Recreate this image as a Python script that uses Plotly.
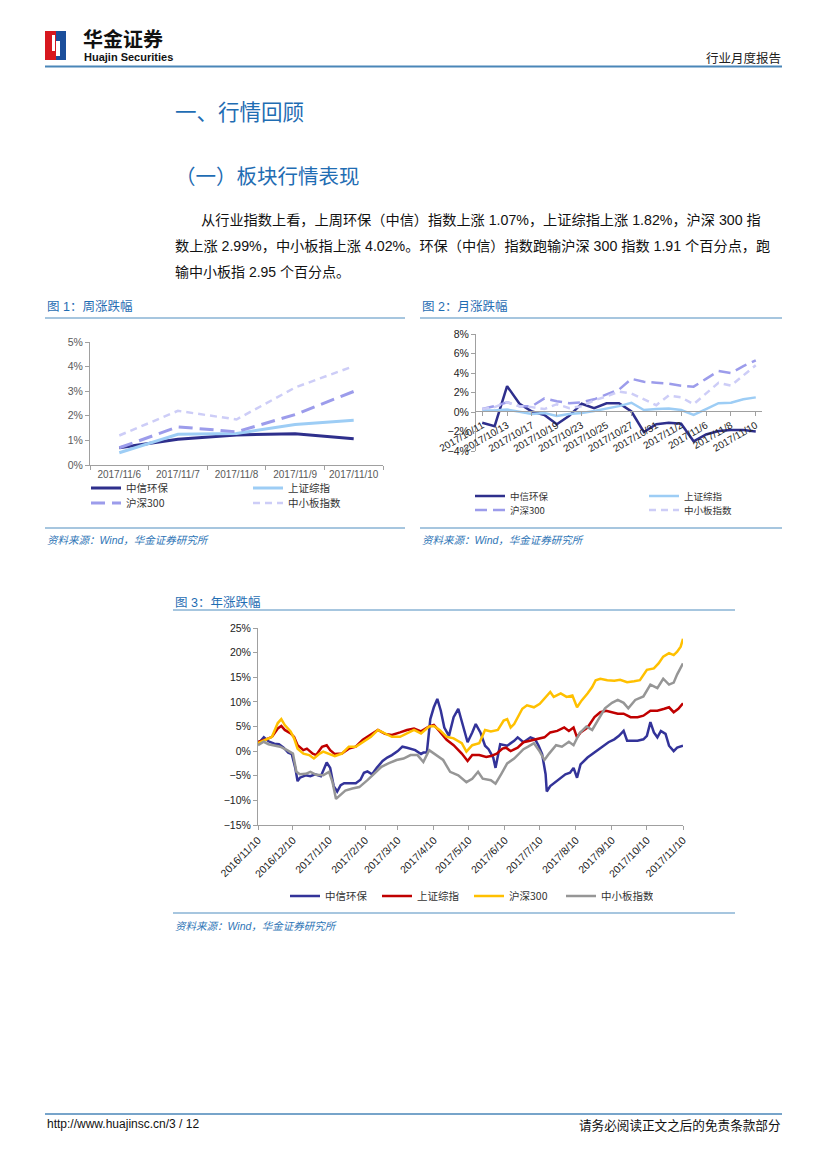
import plotly.graph_objects as go

W, H = 827, 1169
OFF = 8  # the page body adds an 8px margin around the figure
def fx(px): return (px - OFF) / W
def fy(py): return 1 - (py - OFF) / H

# ---------------- data ----------------
series_names = ["中信环保", "上证综指", "沪深300", "中小板指数"]

# Fig 1: weekly change (%)
c1_dates = ["2017/11/6", "2017/11/7", "2017/11/8", "2017/11/9", "2017/11/10"]
c1_zxhb = [0.70, 1.05, 1.22, 1.27, 1.07]
c1_szzz = [0.50, 1.25, 1.28, 1.65, 1.82]
c1_hs300 = [0.70, 1.55, 1.35, 2.05, 2.99]
c1_zxb = [1.20, 2.20, 1.85, 3.15, 4.02]

# Fig 2: monthly change (%)
c2_dates = ["2017/10/11", "2017/10/12", "2017/10/13", "2017/10/16", "2017/10/17", "2017/10/18",
            "2017/10/19", "2017/10/20", "2017/10/23", "2017/10/24", "2017/10/25", "2017/10/26",
            "2017/10/27", "2017/10/30", "2017/10/31", "2017/11/1", "2017/11/2", "2017/11/3",
            "2017/11/6", "2017/11/7", "2017/11/8", "2017/11/9", "2017/11/10"]
c2_zxhb = [-1.1, -1.45, 2.65, 0.85, 0.05, -0.3, -1.25, -0.4, 0.85, 0.4, 0.9, 0.9,
           0.05, -2.05, -1.25, -1.1, -1.2, -3.0, -2.3, -1.95, -1.85, -1.85, -2.0]
c2_szzz = [0.15, 0.15, 0.25, 0.0, -0.2, -0.1, -0.4, -0.2, -0.1, 0.1, 0.35, 0.6,
           0.95, 0.2, 0.3, 0.35, 0.2, -0.3, 0.3, 0.9, 0.95, 1.3, 1.5]
c2_hs300 = [0.3, 0.6, 1.0, 0.6, 0.6, 1.4, 1.1, 0.9, 1.0, 1.3, 1.8, 2.3,
            3.4, 3.1, 3.0, 2.9, 2.7, 2.6, 3.4, 4.2, 4.0, 4.7, 5.3]
c2_zxb = [0.3, 0.5, 1.0, 0.6, 0.5, 0.3, 0.8, 0.4, 0.6, 1.2, 1.6, 2.1,
          1.9, 1.3, 0.7, 1.7, 1.5, 0.8, 1.9, 3.0, 2.7, 3.8, 4.8]
c2_ticklabels = c2_dates[::2]

# Fig 3: yearly change (%)
c3_zxhb_dates = ["2016-11-10", "2016-11-15", "2016-11-19", "2016-11-24", "2016-11-28", "2016-12-02",
                 "2016-12-06", "2016-12-09", "2016-12-12", "2016-12-14", "2016-12-16", "2016-12-21",
                 "2016-12-25", "2016-12-29", "2017-01-03", "2017-01-06", "2017-01-08", "2017-01-11",
                 "2017-01-14", "2017-01-17", "2017-01-20", "2017-01-23", "2017-01-27", "2017-02-02",
                 "2017-02-06", "2017-02-09", "2017-02-12", "2017-02-16", "2017-02-20", "2017-02-25",
                 "2017-03-01", "2017-03-05", "2017-03-10", "2017-03-14", "2017-03-18", "2017-03-21",
                 "2017-03-25", "2017-03-30", "2017-04-01", "2017-04-04", "2017-04-07", "2017-04-10",
                 "2017-04-13", "2017-04-16", "2017-04-19", "2017-04-23", "2017-04-27", "2017-05-01",
                 "2017-05-04", "2017-05-09", "2017-05-13", "2017-05-16", "2017-05-20", "2017-05-24",
                 "2017-05-27", "2017-05-31", "2017-06-02", "2017-06-06", "2017-06-12", "2017-06-18",
                 "2017-06-21", "2017-06-26", "2017-07-02", "2017-07-06", "2017-07-09", "2017-07-12",
                 "2017-07-15", "2017-07-16", "2017-07-19", "2017-07-24", "2017-07-28", "2017-08-01",
                 "2017-08-05", "2017-08-08", "2017-08-11", "2017-08-14", "2017-08-20", "2017-08-26",
                 "2017-08-30", "2017-09-03", "2017-09-07", "2017-09-12", "2017-09-16", "2017-09-20",
                 "2017-09-23", "2017-09-27", "2017-10-02", "2017-10-07", "2017-10-10", "2017-10-13",
                 "2017-10-16", "2017-10-19", "2017-10-22", "2017-10-26", "2017-10-29", "2017-11-02",
                 "2017-11-05", "2017-11-10"]
c3_zxhb = [1.5, 2.8, 2.0, 1.5, 1.4, 0.7, -0.3, -0.6, -3.4, -6.1, -5.4, -4.9,
           -5.1, -4.7, -5.1, -3.4, -2.3, -3.4, -7.1, -8.2, -6.9, -6.5, -6.5, -6.5,
           -5.8, -4.4, -4.1, -4.7, -3.4, -2.0, -1.3, -0.8, 0.0, 0.9, 0.7, 0.5,
           0.2, -0.6, -0.3, -0.3, 6.5, 8.9, 10.6, 8.2, 4.8, 3.1, 6.9, 8.6,
           6.2, 1.8, 3.8, 5.5, 3.8, 1.1, 0.4, -1.3, -3.4, 1.4, 1.1, 2.1,
           2.8, 1.8, 2.8, 2.4, 1.1, -0.6, -4.7, -8.2, -7.1, -6.1, -5.4, -4.7,
           -4.4, -3.4, -5.4, -2.7, -1.3, -0.3, 0.4, 1.1, 1.8, 2.4, 3.1, 4.1,
           2.1, 2.1, 2.1, 2.4, 3.1, 5.9, 3.8, 2.8, 4.1, 3.5, 1.1, 0.0,
           0.7, 1.1]

c3_szzz_dates = ["2016-11-10", "2016-11-16", "2016-11-22", "2016-11-27", "2016-11-30", "2016-12-03",
                 "2016-12-08", "2016-12-11", "2016-12-14", "2016-12-19", "2016-12-22", "2016-12-27",
                 "2016-12-30", "2017-01-04", "2017-01-08", "2017-01-11", "2017-01-15", "2017-01-21",
                 "2017-01-27", "2017-02-02", "2017-02-08", "2017-02-15", "2017-02-21", "2017-02-27",
                 "2017-03-05", "2017-03-12", "2017-03-18", "2017-03-24", "2017-03-30", "2017-04-06",
                 "2017-04-10", "2017-04-15", "2017-04-21", "2017-04-27", "2017-05-04", "2017-05-09",
                 "2017-05-13", "2017-05-19", "2017-05-25", "2017-05-29", "2017-06-03", "2017-06-08",
                 "2017-06-11", "2017-06-15", "2017-06-21", "2017-06-26", "2017-07-02", "2017-07-08",
                 "2017-07-14", "2017-07-19", "2017-07-25", "2017-07-31", "2017-08-04", "2017-08-08",
                 "2017-08-11", "2017-08-14", "2017-08-20", "2017-08-26", "2017-08-31", "2017-09-05",
                 "2017-09-10", "2017-09-15", "2017-09-20", "2017-09-26", "2017-10-02", "2017-10-07",
                 "2017-10-13", "2017-10-19", "2017-10-25", "2017-10-29", "2017-11-02", "2017-11-06",
                 "2017-11-10"]
c3_szzz = [1.9, 2.3, 2.9, 4.6, 5.1, 4.3, 3.6, 2.9, 1.2, 0.2, 0.5, -0.5,
           -0.8, 0.9, 1.2, 0.2, -0.6, -0.5, 0.5, 0.9, 2.3, 3.3, 4.3, 3.5,
           3.3, 3.8, 4.3, 4.6, 4.0, 5.0, 5.3, 4.0, 2.3, 1.2, -0.5, -2.0,
           -0.8, -0.8, -1.2, -1.0, -0.5, 0.5, 0.7, 0.0, 0.7, 1.8, 2.1, 2.4,
           2.8, 3.8, 4.1, 4.8, 4.1, 4.8, 2.8, 3.8, 4.8, 6.9, 7.9, 8.2,
           7.9, 7.6, 7.6, 6.9, 6.9, 7.2, 8.2, 8.2, 8.6, 8.9, 7.9, 8.6,
           9.7]

c3_hs300_dates = ["2016-11-10", "2016-11-16", "2016-11-22", "2016-11-27", "2016-11-30", "2016-12-03",
                  "2016-12-08", "2016-12-11", "2016-12-14", "2016-12-19", "2016-12-24", "2016-12-28",
                  "2017-01-02", "2017-01-05", "2017-01-10", "2017-01-15", "2017-01-21", "2017-01-27",
                  "2017-02-02", "2017-02-08", "2017-02-15", "2017-02-21", "2017-02-27", "2017-03-05",
                  "2017-03-12", "2017-03-18", "2017-03-24", "2017-03-30", "2017-04-06", "2017-04-10",
                  "2017-04-15", "2017-04-21", "2017-04-27", "2017-05-04", "2017-05-08", "2017-05-13",
                  "2017-05-19", "2017-05-24", "2017-05-29", "2017-06-04", "2017-06-09", "2017-06-12",
                  "2017-06-15", "2017-06-18", "2017-06-25", "2017-06-29", "2017-07-05", "2017-07-10",
                  "2017-07-14", "2017-07-19", "2017-07-22", "2017-07-28", "2017-08-02", "2017-08-07",
                  "2017-08-11", "2017-08-15", "2017-08-20", "2017-08-24", "2017-08-27", "2017-08-31",
                  "2017-09-06", "2017-09-12", "2017-09-17", "2017-09-23", "2017-09-29", "2017-10-04",
                  "2017-10-10", "2017-10-16", "2017-10-20", "2017-10-24", "2017-10-29", "2017-11-02",
                  "2017-11-05", "2017-11-08", "2017-11-10"]
c3_hs300 = [1.6, 2.3, 2.9, 5.7, 6.5, 5.3, 4.0, 2.6, 0.5, -0.5, -0.8, -1.5,
            -0.5, -0.1, -0.5, -1.0, -0.5, 0.9, 0.9, 1.9, 2.9, 4.3, 3.6, 2.9,
            2.9, 3.6, 4.3, 3.6, 5.0, 5.1, 4.3, 2.9, 2.6, 1.6, -0.1, 1.2,
            1.6, 4.3, 4.0, 4.3, 6.2, 6.5, 4.8, 5.5, 8.6, 9.3, 8.9, 9.6,
            10.6, 12.0, 11.0, 11.7, 11.0, 11.3, 8.9, 10.3, 11.7, 13.0, 14.4, 14.7,
            14.4, 14.3, 14.5, 14.0, 14.2, 14.4, 16.5, 16.8, 17.8, 19.2, 19.9, 19.5,
            20.2, 21.2, 22.8]

c3_zxb_dates = ["2016-11-10", "2016-11-15", "2016-11-19", "2016-11-24", "2016-11-29", "2016-12-05",
                "2016-12-10", "2016-12-13", "2016-12-16", "2016-12-21", "2016-12-25", "2016-12-30",
                "2017-01-05", "2017-01-10", "2017-01-13", "2017-01-16", "2017-01-19", "2017-01-24",
                "2017-01-30", "2017-02-05", "2017-02-12", "2017-02-18", "2017-02-24", "2017-03-02",
                "2017-03-09", "2017-03-15", "2017-03-21", "2017-03-27", "2017-04-01", "2017-04-06",
                "2017-04-12", "2017-04-18", "2017-04-24", "2017-05-01", "2017-05-08", "2017-05-13",
                "2017-05-18", "2017-05-22", "2017-05-29", "2017-06-02", "2017-06-07", "2017-06-12",
                "2017-06-18", "2017-06-26", "2017-06-30", "2017-07-05", "2017-07-10", "2017-07-14",
                "2017-07-18", "2017-07-24", "2017-07-29", "2017-08-04", "2017-08-08", "2017-08-13",
                "2017-08-19", "2017-08-24", "2017-08-29", "2017-09-04", "2017-09-10", "2017-09-15",
                "2017-09-20", "2017-09-24", "2017-09-30", "2017-10-07", "2017-10-13", "2017-10-19",
                "2017-10-24", "2017-10-29", "2017-11-02", "2017-11-05", "2017-11-10"]
c3_zxb = [1.2, 1.9, 1.4, 1.2, 0.9, 0.2, -0.5, -4.2, -4.7, -4.6, -4.2, -4.8,
          -4.9, -4.2, -6.3, -9.7, -9.0, -8.0, -7.6, -7.3, -5.9, -4.6, -3.2, -2.5,
          -1.8, -1.5, -0.8, -0.8, -2.2, 0.2, -0.8, -1.8, -4.2, -4.9, -6.3, -5.6,
          -4.2, -5.6, -5.9, -6.6, -4.6, -2.5, -1.5, 0.4, 0.9, 1.6, -0.1, -1.8,
          -0.5, 1.2, 0.9, 1.9, 1.2, 3.6, 5.0, 4.3, 6.3, 8.7, 9.8, 10.4,
          9.8, 8.7, 10.4, 11.1, 13.5, 12.8, 14.7, 13.5, 13.9, 15.6, 17.8]

c3_tickvals = ["2016-11-10", "2016-12-10", "2017-01-10", "2017-02-10", "2017-03-10", "2017-04-10",
               "2017-05-10", "2017-06-10", "2017-07-10", "2017-08-10", "2017-09-10", "2017-10-10",
               "2017-11-10"]
c3_ticktext = ["2016/11/10", "2016/12/10", "2017/1/10", "2017/2/10", "2017/3/10", "2017/4/10",
               "2017/5/10", "2017/6/10", "2017/7/10", "2017/8/10", "2017/9/10", "2017/10/10",
               "2017/11/10"]

# ---------------- styles ----------------
NAVY = "#2E2F8C"
LBLUE = "#9DCDF5"
LAV = "#9C9CEB"
LLAV = "#CDCDF7"
C3 = ["#333399", "#C00000", "#FFC000", "#969696"]
BLUE_T = "#1F6DB3"
LINE_B = "#4F8DBF"
CJK = "Noto Sans CJK SC"
LAT = "Liberation Sans, Noto Sans CJK SC"
AXC = "#A0A0A0"
TICKC = "#595959"

fig = go.Figure()

# Figure 1
c1_styles = [dict(color=NAVY, width=3), dict(color=LBLUE, width=3),
             dict(color=LAV, width=3, dash="14px,7px"), dict(color=LLAV, width=2.5, dash="7px,5px")]
for i, (nm, vals) in enumerate(zip(series_names, [c1_zxhb, c1_szzz, c1_hs300, c1_zxb])):
    fig.add_trace(go.Scatter(x=c1_dates, y=vals, name=nm, mode="lines", line=c1_styles[i],
                             xaxis="x", yaxis="y", legend="legend" if i < 2 else "legend2"))

# Figure 2
c2_styles = [dict(color=NAVY, width=2.5), dict(color=LBLUE, width=2.5),
             dict(color=LAV, width=2.5, dash="12px,6px"), dict(color=LLAV, width=2.5, dash="7px,5px")]
for i, (nm, vals) in enumerate(zip(series_names, [c2_zxhb, c2_szzz, c2_hs300, c2_zxb])):
    fig.add_trace(go.Scatter(x=c2_dates, y=vals, name=nm, mode="lines", line=c2_styles[i],
                             xaxis="x2", yaxis="y2", legend="legend3" if i < 2 else "legend4"))

# Figure 3
for i, (nm, xs, vals) in enumerate(zip(series_names,
                                       [c3_zxhb_dates, c3_szzz_dates, c3_hs300_dates, c3_zxb_dates],
                                       [c3_zxhb, c3_szzz, c3_hs300, c3_zxb])):
    fig.add_trace(go.Scatter(x=xs, y=vals, name=nm, mode="lines",
                             line=dict(color=C3[i], width=2.5),
                             xaxis="x3", yaxis="y3", legend="legend5"))

f1x = dict(family=LAT, size=10, color=TICKC)
f1y = dict(family=LAT, size=10.5, color=TICKC)
f2 = dict(family=LAT, size=10.5, color="#222222")
f3 = dict(family=LAT, size=10.5, color="#222222")
common = dict(showline=True, linecolor=AXC, linewidth=1, ticks="outside", ticklen=4,
              tickcolor=AXC, showgrid=False, zeroline=False)

fig.update_layout(
    width=W, height=H, margin=dict(l=0, r=0, t=0, b=0, autoexpand=False),
    paper_bgcolor="white", plot_bgcolor="white", showlegend=True,
    xaxis=dict(domain=[fx(90), fx(383)], anchor="y", type="category", tickson="boundaries",
               range=[-0.5, len(c1_dates) - 0.5], tickangle=0, tickfont=f1x, **common),
    yaxis=dict(domain=[fy(465), fy(342)], anchor="x", range=[0, 5], dtick=1, ticksuffix="%",
               tickfont=f1y, **common),
    xaxis2=dict(domain=[fx(476), fx(762)], anchor="free", position=fy(411), type="category",
                range=[-0.5, len(c2_dates) - 0.5], tickmode="array", tickvals=c2_ticklabels,
                ticktext=c2_ticklabels, tickangle=-30, tickfont=dict(family=LAT, size=10, color="#222222"),
                **common),
    yaxis2=dict(domain=[fy(451), fy(334)], anchor="x2", range=[-4, 8], dtick=2, ticksuffix="%",
                tickfont=f2, **common),
    xaxis3=dict(domain=[fx(258), fx(683)], anchor="y3", type="date",
                range=["2016-11-10", "2017-11-10"], tickmode="array", tickvals=c3_tickvals,
                ticktext=c3_ticktext, tickangle=-45, tickfont=f3, **common),
    yaxis3=dict(domain=[fy(825), fy(628)], anchor="x3", range=[-15, 25], dtick=5, ticksuffix="%",
                tickfont=f3, **common),
)

def leg(x, y, w, size):
    return dict(x=fx(x), y=fy(y), xref="container", yref="container",
                xanchor="left", yanchor="middle", orientation="h",
                entrywidth=w, entrywidthmode="pixels", bgcolor="rgba(0,0,0,0)",
                borderwidth=0, font=dict(family=CJK, size=size, color="#333333"),
                itemclick=False, tracegroupgap=0)
fig.update_layout(legend=leg(86, 488, 117, 10.5), legend2=leg(86, 503, 117, 10.5),
                  legend3=leg(470, 496, 129, 9.5), legend4=leg(470, 510, 129, 9.5),
                  legend5=leg(285, 896, 47, 10.5))

# ---------------- page decorations ----------------
shapes = []
def hline(x0, x1, y, color, width):
    shapes.append(dict(type="line", xref="paper", yref="paper", x0=fx(x0), x1=fx(x1),
                       y0=fy(y), y1=fy(y), line=dict(color=color, width=width)))
def rect(x0, y0, x1, y1, color):
    shapes.append(dict(type="rect", xref="paper", yref="paper", x0=fx(x0), x1=fx(x1),
                       y0=fy(y1), y1=fy(y0), fillcolor=color, line=dict(width=0)))

# logo
rect(45, 31, 56, 60, "#D7181F")
rect(56, 31, 66, 60, "#1B4E9B")
rect(52, 35, 55, 51, "white")
rect(56, 41, 60, 56, "white")
hline(45, 782, 66.5, "#4A86B8", 2)
hline(45, 405, 318, LINE_B, 1)
hline(420, 782, 318, LINE_B, 1)
hline(45, 405, 528, LINE_B, 1)
hline(420, 782, 528, LINE_B, 1)
hline(173, 735, 610, LINE_B, 1)
hline(173, 735, 913, LINE_B, 1)
hline(45, 782, 1114, "#4A86B8", 1.5)

ann = []
def text(x, y, s, size, color="#000000", family=CJK, anchor="left", **kw):
    ann.append(dict(xref="paper", yref="paper", x=fx(x), y=fy(y), text=s, showarrow=False,
                    xanchor=anchor, yanchor="middle", borderpad=0,
                    font=dict(family=family, size=size, color=color, **kw)))

text(82, 38.5, "<b>华金证券</b>", 20, "#111111")
text(83, 57, "<b>Huajin Securities</b>", 11, "#111111", family="Liberation Sans")
text(782, 58, "行业月度报告", 12.5, "#222222", anchor="right")
text(174, 110, "一、行情回顾", 21.5, BLUE_T)
text(174, 175, "（一）板块行情表现", 20.5, BLUE_T)
text(200, 220, "从行业指数上看，上周环保（中信）指数上涨 1.07%，上证综指上涨 1.82%，沪深 300 指", 14.2, "#111111", family=LAT)
text(174, 246, "数上涨 2.99%，中小板指上涨 4.02%。环保（中信）指数跑输沪深 300 指数 1.91 个百分点，跑", 14.2, "#111111", family=LAT)
text(174, 272, "输中小板指 2.95 个百分点。", 14, "#111111", family=LAT)
text(46, 307, "图 1：周涨跌幅", 12.5, BLUE_T, family=LAT)
text(421, 307, "图 2：月涨跌幅", 12.5, BLUE_T, family=LAT)
text(174, 602, "图 3：年涨跌幅", 12.5, BLUE_T, family=LAT)
src = "<i>资料来源：Wind，华金证券研究所</i>"
text(46, 540, src, 10.5, "#2E75B6", family=LAT)
text(421, 540, src, 10.5, "#2E75B6", family=LAT)
text(174, 926, src, 10.5, "#2E75B6", family=LAT)
text(46, 1124, "http://www.huajinsc.cn/3 / 12", 12, "#111111", family="Liberation Sans")
text(782, 1124, "请务必阅读正文之后的免责条款部分", 12.6, "#111111", anchor="right")

fig.update_layout(shapes=shapes, annotations=ann)
fig.write_html("out.html")
